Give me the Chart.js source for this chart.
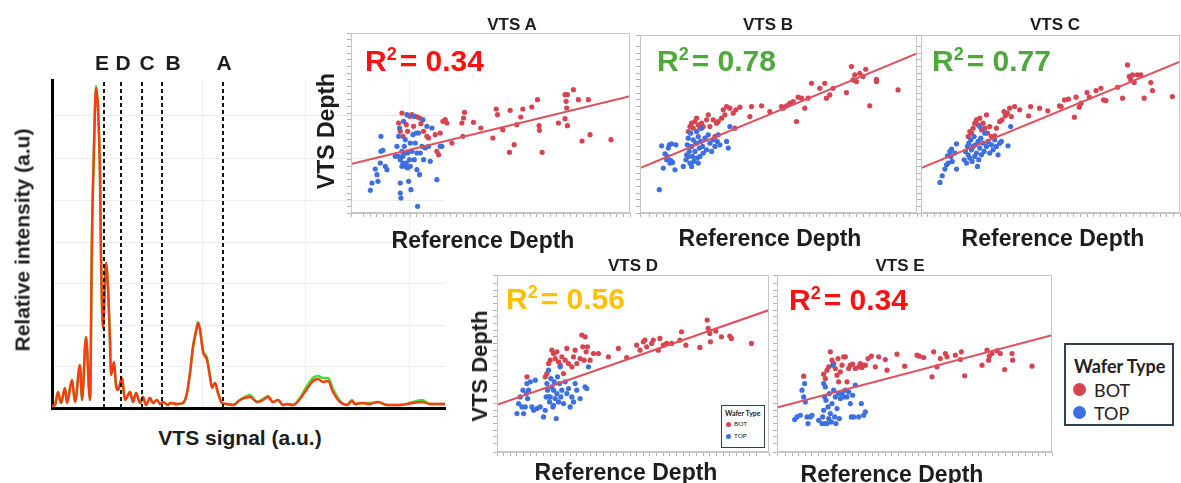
<!DOCTYPE html>
<html>
<head>
<meta charset="utf-8">
<script src="https://cdn.jsdelivr.net/npm/chart.js@4.4.1/dist/chart.umd.min.js"></script>
<style>
  html, body { margin: 0; padding: 0; background: #fff; }
  #page { position: relative; width: 1181px; height: 483px; overflow: hidden; }
  canvas { position: absolute; }
  .t { position: absolute; font-family: 'Liberation Sans', Arial, sans-serif; font-weight: bold;
       color: #1d1d1d; white-space: nowrap; line-height: 1; transform: translate(-50%, -50%); }
  .rot { transform: translate(-50%, -50%) rotate(-90deg); }
  .r2 { position: absolute; font-family: 'Liberation Sans', Arial, sans-serif; font-weight: bold;
        font-size: 30px; line-height: 1; white-space: nowrap; transform: translateY(-50%); }
  .r2 sup { font-size: 0.6em; vertical-align: 0; position: relative; top: -0.62em; margin-right: 3px; }
  .legend { position: absolute; background: #fff; border: 2px solid #2f4356; box-sizing: border-box;
            font-family: Lato, 'Open Sans', sans-serif; color: #222; }
  .legend div { white-space: nowrap; line-height: 1; }
  .legend .dot { display: inline-block; border-radius: 50%; }
</style>
</head>
<body>
<div id="page">
  <canvas id="spec"></canvas>
  <canvas id="pA"></canvas>
  <canvas id="pB"></canvas>
  <canvas id="pC"></canvas>
  <canvas id="pD"></canvas>
  <canvas id="pE"></canvas>

  <!-- left spectrum labels -->
  <div class="t" style="left:102px;top:62px;font-size:21px">E</div>
  <div class="t" style="left:123px;top:62px;font-size:21px">D</div>
  <div class="t" style="left:147px;top:62px;font-size:21px">C</div>
  <div class="t" style="left:173px;top:62px;font-size:21px">B</div>
  <div class="t" style="left:224px;top:62px;font-size:21px">A</div>
  <div class="t rot" style="left:22px;top:240px;font-size:21px">Relative intensity (a.u)</div>
  <div class="t" style="left:240px;top:437px;font-size:21px">VTS signal (a.u.)</div>

  <!-- panel titles -->
  <div class="t" style="left:512px;top:24px;font-size:17px">VTS A</div>
  <div class="t" style="left:768px;top:24px;font-size:17px">VTS B</div>
  <div class="t" style="left:1055px;top:24px;font-size:17px">VTS C</div>
  <div class="t" style="left:633px;top:265px;font-size:17px">VTS D</div>
  <div class="t" style="left:900px;top:265px;font-size:17px">VTS E</div>

  <!-- axis titles -->
  <div class="t rot" style="left:326px;top:131px;font-size:23px">VTS Depth</div>
  <div class="t rot" style="left:480px;top:366px;font-size:22px">VTS Depth</div>
  <div class="t" style="left:483px;top:240px;font-size:23px">Reference Depth</div>
  <div class="t" style="left:770px;top:238px;font-size:23px">Reference Depth</div>
  <div class="t" style="left:1053px;top:238px;font-size:23px">Reference Depth</div>
  <div class="t" style="left:626px;top:472px;font-size:23px">Reference Depth</div>
  <div class="t" style="left:892px;top:474px;font-size:23px">Reference Depth</div>

  <!-- R² labels -->
  <div class="r2" style="left:365px;top:61px;color:#ff1010">R<sup>2</sup>= 0.34</div>
  <div class="r2" style="left:657px;top:61px;color:#4ea83a">R<sup>2</sup>= 0.78</div>
  <div class="r2" style="left:932px;top:61px;color:#4ea83a">R<sup>2</sup>= 0.77</div>
  <div class="r2" style="left:506px;top:299px;color:#ffc000">R<sup>2</sup>= 0.56</div>
  <div class="r2" style="left:789px;top:300px;color:#ff1010">R<sup>2</sup>= 0.34</div>

  <!-- small legend inside VTS D -->
  <div class="legend" style="left:721px;top:405px;width:44px;height:43px;border-width:1.5px">
    <div style="position:absolute;left:3px;top:4px;font-size:7px;font-weight:bold">Wafer Type</div>
    <span class="dot" style="position:absolute;left:4px;top:16px;width:5px;height:5px;background:#d7434f"></span>
    <div style="position:absolute;left:12px;top:15px;font-size:6.5px">BOT</div>
    <span class="dot" style="position:absolute;left:4px;top:28px;width:5px;height:5px;background:#3e6fe2"></span>
    <div style="position:absolute;left:12px;top:27px;font-size:6.5px">TOP</div>
  </div>

  <!-- main legend -->
  <div class="legend" style="left:1064px;top:343px;width:110px;height:83px">
    <div style="position:absolute;left:8px;top:12px;font-size:18px;font-weight:bold">Wafer Type</div>
    <span class="dot" style="position:absolute;left:7px;top:38px;width:13px;height:13px;background:#d7434f"></span>
    <div style="position:absolute;left:28px;top:36px;font-size:18px">BOT</div>
    <span class="dot" style="position:absolute;left:7px;top:61px;width:13px;height:13px;background:#3e6fe2"></span>
    <div style="position:absolute;left:28px;top:59px;font-size:18px">TOP</div>
  </div>
</div>

<script>
'use strict';
// ── Spectrum data (a.u.) ───────────────────────────────────────────────────
const SPEC_X = [0,3,6,9,13,15,20,23,28,30,34,38,40,42,44,46,48,49,51,54,56,58,59,62,64,66,70,73,78,81,84,88,91,94,
  98,101,105,108,111,116,118,125,131,135,138,141,145,146,148,151,155,158,160,163,166,170,175,181,188,198,205,211,216,
  221,226,231,235,241,248,255,261,266,271,276,281,288,295,300,303,310,318,326,335,348,361,370,378,393];
const SPEC_RED = [2,3,16,5,20,5,28,6,43,8,71,8,173,260,320,300,233,153,80,145,120,66,33,46,23,18,30,8,16,6,15,5,11,3,
  10,5,8,4,6,3,5,4,5,15,35,61,81,85,78,56,48,31,20,25,15,5,4,3,8,11,6,8,11,
  6,8,3,4,3,9,19,27,29,26,27,16,6,3,7,4,5,4,6,3,3,5,6,4,4];
const SPEC_GREEN = [2,3,16,5,20,5,28,6,43,8,71,8,173,262,322,300,233,153,80,145,120,66,33,46,23,18,30,8,16,6,15,5,11,3,
  10,5,8,4,6,3,5,4,5,15,35,61,82,86,79,58,50,32,21,25,15,5,4,3,8,13,6,9,12,
  6,8,3,4,3,10,22,30,32,30,30,19,7,3,8,4,5,5,6,3,3,6,8,4,4];
const MARKER_X = [52, 69, 90, 110, 171];   // E D C B A
const MARKER_TOP = 328;
const GRID_Y = [42, 83, 125, 166, 208, 250, 292];
const GRID_X = [150, 253, 357];

// ── Scatter data: [reference depth, VTS depth] ─────────────────────────────
const A_TOP = [[12,12.8],[12.5,15],[13.5,19.2],[14,17.5],[14.3,15.5],[15,21],[15.2,24.5],[15.2,29],[15.8,24.8],[16.5,20],
  [17,19],[19.5,23],[20,26],[20.5,29],[20.8,31.5],[21,15],[21,12],[21.2,10.5],[21.5,20],[21.8,23],[22,33.5],[22.2,26],
  [22.5,28],[22.8,21],[23,35.5],[23.2,24],[23.5,15.5],[23.8,22],[24,20],[24.2,13],[24.5,24.5],[24.8,29.5],[25,35],
  [25.2,22],[25.5,27],[25.8,30],[26,19],[26.2,8],[26.5,30],[26.8,17.5],[27,24],[27.5,26],[27.8,34],[28,22],[28.5,25.5],
  [29,32],[29.5,26],[30,21.5],[30.5,31.5],[32,16],[33,26],[33.5,26],[21.5,24.5],[22.5,20],[24,27],[26,24],[20.5,23],
  [21.8,21],[23.2,19.5],[21,22]];
const A_BOT = [[20.5,33],[21,30.5],[21.5,36],[21.8,29],[22.2,24],[22.8,32.5],[23.2,30.5],[23.8,35],[24.5,35.5],[25,32],
  [25.5,35],[26.2,34.8],[26.8,34.5],[27.2,32.8],[28,30.5],[29,29],[29.5,28.5],[31.5,29.5],[32,24.5],[32.5,23.5],[33,30],
  [33.8,33.5],[34.5,34],[35,33],[36.5,27],[39.5,33],[39.8,29],[40,34.5],[40.3,36.2],[43,33.2],[45.2,31.5],[48.8,28.5],
  [49.8,37.2],[50.2,35.5],[51.8,31],[53.8,24.2],[54,36.8],[55.2,26.5],[56,32.5],[57.2,34.8],[57.8,37.2],[60.5,37.8],
  [62.2,40],[62.7,32.2],[62.8,30.8],[63.6,24.2],[68.5,33],[70.5,34.3],[70.5,41.5],[70.8,39.5],[71,37.5],[71.2,41.5],
  [71.2,32.2],[73,43],[74.5,40],[75.6,27.6],[77.5,40],[78,29.5],[84.3,28]];
const A_FIT = [[6.2,20.7],[90,41]];

const B_TOP = [[8.8,13],[9.5,26.2],[10,19.5],[10.5,23.8],[11,22],[11.2,23],[11.5,25.5],[11.8,26.5],[12,21],[12.2,21.8],
  [12.5,26.8],[12.8,21.2],[13.5,19],[13.8,26.5],[16,20],[16.8,22],[17,23.5],[17.2,26.5],[17.5,28.5],[17.8,24.5],[18,21],
  [18.2,30],[18.5,26],[18.8,23],[19,28],[19.2,21.5],[19.5,24.5],[19.8,27],[20,30.5],[20.2,22.5],[20.5,29],[20.8,25.5],
  [21,23],[21.2,27.5],[21.5,31.5],[21.8,26],[22,24],[22.5,28.5],[23,25],[23.5,29.5],[24,27],[24.5,24.5],[25,28],
  [25.5,26],[26.2,27.5],[26.5,29.5],[27,26.5],[29,27.5],[29.5,25.5],[30,32],[17.5,23],[18.5,20],[20.5,21]];
const B_BOT = [[17.5,30.5],[18,32],[18.5,33],[19,31.5],[19.5,33.5],[20,34.5],[20.5,32.5],[21,31.5],[21.5,33],[22,32],
  [23,34],[23.5,35.5],[24,32],[25,34],[25.5,29],[26,33],[26.5,33.5],[27.5,34.5],[28,37],[28.5,35.5],[29,38],[30,37.5],
  [31,36],[31.8,37],[33,37.8],[31.5,31.5],[36,35],[36.5,38],[39.5,38.2],[42,36.5],[45.5,38],[46,37.5],[47,38.2],[48,39],
  [49,39.5],[50,33.5],[50.5,40.8],[51.5,40.5],[52.5,37.5],[53.5,40.5],[54.5,45],[57,43.5],[58.5,45],[59,40.5],[60,41.5],
  [61,43.5],[65,42.2],[66.5,50],[67,46],[67.5,47.5],[68,45.5],[69,48],[70,47],[70.8,49.2],[72,38.2],[74,45.5],[80.5,43],
  [74,46.2]];
const B_FIT = [[3,19.5],[86.2,54]];

const C_TOP = [[7.5,15.2],[8.2,17.2],[9,19.2],[9.5,20.5],[9.8,23.2],[10,21],[10.5,24.5],[10.8,23],[11,25.2],[11.2,21.5],
  [12,24],[12.5,26.8],[12.5,19.2],[14.8,22],[15.2,24.5],[15.5,21],[15.8,26],[16,23.5],[16.2,27],[16.5,22.5],[16.8,28],
  [17,25],[17.2,21.5],[17.5,26],[17.8,29],[18,23],[18.2,26.5],[18.5,24],[18.8,20],[19,27.5],[19.2,22],[19.5,25.5],
  [19.8,28.5],[20,23.5],[20.5,27],[20.8,24.5],[21,30],[21.5,26],[22,27.5],[22.5,24],[23,26.5],[23.5,25],[24,28],
  [24.5,26],[25,23.5],[25.5,27],[26,27.5],[28,26.2],[28.8,32],[19.5,32]];
const C_BOT = [[16,29],[16.5,30.5],[17,30],[17.5,31.5],[18,33],[18.5,34],[19,32.5],[19.5,34.5],[20,31],[20.5,33],
  [21,31.5],[21.5,35.5],[21.8,30],[22.5,32],[23,29],[24,29.2],[24.5,31.5],[25.5,33.5],[26.2,34],[26.8,36.5],[27.2,35.2],
  [27.8,36],[28.5,37.5],[29,35],[30,38],[31.5,37],[34.2,35.2],[34.8,38],[37.5,37.5],[40,36.7],[43.5,38.2],[44,38],
  [45,40],[46.2,40.2],[48,34.8],[48.5,40.8],[49.5,37.8],[50,39],[51.8,42.2],[52.5,40.8],[54.5,42.8],[56,43.5],[56.8,40],
  [57.5,39.8],[61,43.8],[62.5,40.5],[64,50.5],[64.5,47],[65,46],[65.5,47.5],[66,45.2],[67,47.5],[68,47.5],[69,40.5],
  [71,45.2],[71.5,42.8],[77.5,41]];
const C_FIT = [[1.8,19.5],[79.8,51.5]];

const D_TOP = [[14,21],[14.5,24],[15,26],[15.5,23],[15.8,28],[16,21],[16.5,23],[16.8,27],[17,30],[17.2,25.5],[17.5,28],
  [18,30.5],[18.5,23],[19,22],[19.5,31],[20,22.5],[21,23],[22,20],[22.5,22],[22.8,26],[23,30],[23.2,28],[23.5,34],
  [23.8,24.5],[24,26],[24.2,31.5],[24.5,29],[24.8,23],[25,28],[25.2,30.5],[25.5,25.5],[25.8,19.5],[26,27],[26.2,32],
  [26.5,24.5],[26.8,30],[27,35],[27.2,26],[27.5,28],[28,24],[28.5,30.5],[29,27],[29.5,28.5],[30,23],[30.5,26],[31,24.5],
  [31.5,30],[32,28],[33,25.5],[34.5,29],[35,28.5],[35.5,35],[23.5,26],[25,23.5]];
const D_BOT = [[17,32],[22.5,32],[23,33],[23.5,36],[24,37],[24.5,40],[25,39],[25.5,37.5],[26,39.5],[26.5,36.5],[27,35.5],
  [27.5,38],[28,33],[28.5,37],[29,40.5],[29.5,36],[30.5,35],[31,38],[31.5,40],[32,36],[33,37.5],[33.5,44.5],[33.8,41],
  [34.2,37],[34.5,44],[34.8,39.5],[35.2,41],[36,37],[37,39],[38.5,39],[41.5,38],[44.5,40.5],[47,37.8],[50,41.5],[51,40],
  [52,42.5],[52.5,43],[53,41],[54.5,42],[55,43],[56.5,40],[57,43.5],[58,41.5],[59,42],[60.5,42],[63,43],[63.5,45.5],
  [64.8,41.5],[69,40.8],[71.2,49],[71.5,46.5],[72,45],[72.2,42.5],[73.8,45.7],[75.5,44],[78,44.2],[78.5,43.5],[84.5,42]];
const D_FIT = [[8,23.6],[89.8,52]];

const E_TOP = [[8.8,19.2],[9.5,20],[10.5,20.5],[11,28],[11.5,26],[11.8,30],[12,24.5],[12.5,20],[12.8,18],[13.5,20],
  [14,20.5],[16,19],[17,18],[17.2,20],[17.5,22],[17.8,26],[18,29],[18.2,25],[18.5,18],[18.8,23],[19,19.5],[19.2,27],
  [19.5,21],[19.8,18.5],[20,24],[20.2,35.5],[20.5,28],[20.8,20],[21,26],[21.2,18],[21.5,22.5],[22,27],[22.2,19.5],
  [22.5,25.5],[23,27],[23.5,26],[24,28],[24.5,26],[25,27.5],[25.5,24],[25.8,20],[26.2,26.5],[26.5,20],[27,29.5],[28,20],
  [28.8,24],[29.5,20.5],[30,21.5],[17.5,30],[18,18]];
const E_BOT = [[11.5,32.2],[17.5,32.8],[18,31.5],[18.5,34],[19,35],[19.5,39.5],[20,37],[20.5,36],[21,34.5],[21.5,32.5],
  [21.8,37.5],[22,30.5],[22.5,33.5],[23,35.5],[23.5,38],[24,38],[24.5,30.5],[25,34.5],[25.5,35.5],[26.2,35.8],[27,34.5],
  [28,35],[28.5,36],[29,34.8],[29.5,35.5],[30,35.5],[30.8,37.5],[31.8,38.2],[33,35],[34,38],[36,37.2],[36.5,34],
  [39.5,38.8],[41.8,35.2],[45.5,38.5],[46.2,38.2],[47.5,37.8],[50,32],[50.5,39.5],[51.5,35],[52.5,37.5],[54,39],[54.5,38],
  [57,38.5],[58.5,37.2],[58.8,39.5],[59.8,32.3],[65,35.5],[66.5,40],[67,37],[67.2,38.2],[68,39],[69.5,39.8],[70.5,39],
  [71.8,34.2],[74,39],[74.2,37],[80,35.2]];
const E_FIT = [[3.5,22.8],[86,44.5]];

// axis ranges [xmin, xmax, ymin, ymax]
const A_RANGE = [6.2, 90, 6, 60];
const B_RANGE = [3.0, 86.2, 6, 59.5];
const C_RANGE = [1.8, 79.8, 6, 59.5];
const D_RANGE = [8.0, 89.8, 9.5, 62.5];
const E_RANGE = [3.5, 86, 9.5, 62.5];

// ── colours ────────────────────────────────────────────────────────────────
const BOT_COL = '#d7434f';
const TOP_COL = '#3e6fe2';
const FIT_COL = '#e0505c';
const FRAME   = '#c6c6c6';

const pts = arr => arr.map(p => ({x: p[0], y: p[1]}));

// ── Spectrum chart ─────────────────────────────────────────────────────────
(function () {
    const cv = document.getElementById('spec');
    cv.width = 450; cv.height = 345;
    cv.style.left = '0px'; cv.style.top = '70px';
    const markers = MARKER_X.map(m => ({
        data: [{x: m, y: 0}, {x: m, y: MARKER_TOP}],
        borderColor: '#151515', borderWidth: 2, borderDash: [4, 3],
        pointRadius: 0, order: 0
    }));
    const trace = (ys, color, w, order) => ({
        data: SPEC_X.map((x, i) => ({x, y: ys[i]})),
        borderColor: color, borderWidth: w, pointRadius: 0,
        cubicInterpolationMode: 'monotone', order
    });
    new Chart(cv, {
        type: 'line',
        data: { datasets: [
            ...markers,
            trace(SPEC_RED,   '#ff3a12', 2.4, 1),
            trace(SPEC_GREEN, '#3fe03a', 2.6, 2),
        ]},
        options: {
            responsive: false, animation: false,
            layout: { padding: { left: 52, top: 10, right: 5, bottom: 7 } },
            plugins: { legend: { display: false }, tooltip: { enabled: false } },
            scales: {
                x: { type: 'linear', min: 0, max: 393,
                     afterBuildTicks: s => { s.ticks = GRID_X.map(v => ({value: v})); },
                     ticks: { display: false },
                     grid: { color: '#efefef', drawTicks: false },
                     border: { color: '#000', width: 3 } },
                y: { min: 0, max: MARKER_TOP,
                     afterBuildTicks: s => { s.ticks = GRID_Y.map(v => ({value: v})); },
                     ticks: { display: false },
                     grid: { color: '#ececec', drawTicks: false },
                     border: { color: '#000', width: 3 } }
            }
        }
    });
})();

// ── Scatter panels ─────────────────────────────────────────────────────────
const frameBox = {
    id: 'frameBox',
    afterDraw(chart) {
        const {ctx, chartArea: a} = chart;
        ctx.save();
        ctx.strokeStyle = FRAME; ctx.lineWidth = 1;
        ctx.strokeRect(a.left + 0.5, a.top + 0.5, a.right - a.left - 1, a.bottom - a.top - 1);
        ctx.restore();
    }
};

function makeScatter(id, box, range, top, bot, fit) {
    const cv = document.getElementById(id);
    cv.width = box.w + 16; cv.height = box.h + 16;
    cv.style.left = (box.l - 10) + 'px'; cv.style.top = (box.t - 5) + 'px';
    const axis = (min, max) => ({
        type: 'linear', min, max,
        ticks: { display: false, stepSize: 2 },
        grid: { drawOnChartArea: false, drawTicks: true, tickLength: 4, tickColor: '#b4b4b4' },
        border: { color: FRAME }
    });
    return new Chart(cv, {
        type: 'scatter',
        data: { datasets: [
            { type: 'line', data: pts(fit), borderColor: FIT_COL, borderWidth: 2, pointRadius: 0, order: 0 },
            { label: 'BOT', data: pts(bot), backgroundColor: BOT_COL, pointRadius: 2.6, borderWidth: 0, order: 2 },
            { label: 'TOP', data: pts(top), backgroundColor: TOP_COL, pointRadius: 2.6, borderWidth: 0, order: 1 },
        ]},
        options: {
            responsive: false, animation: false,
            layout: { padding: { left: 6, top: 5, right: 6, bottom: 7 } },
            plugins: { legend: { display: false }, tooltip: { enabled: false } },
            scales: { x: axis(range[0], range[1]), y: axis(range[2], range[3]) }
        },
        plugins: [frameBox]
    });
}

makeScatter('pA', {l: 351, t: 33,  w: 279, h: 180}, A_RANGE, A_TOP, A_BOT, A_FIT);
makeScatter('pB', {l: 640, t: 35,  w: 277, h: 178}, B_RANGE, B_TOP, B_BOT, B_FIT);
makeScatter('pC', {l: 921, t: 35,  w: 259, h: 178}, C_RANGE, C_TOP, C_BOT, C_FIT);
makeScatter('pD', {l: 497, t: 275, w: 272, h: 177}, D_RANGE, D_TOP, D_BOT, D_FIT);
makeScatter('pE', {l: 777, t: 275, w: 275, h: 177}, E_RANGE, E_TOP, E_BOT, E_FIT);
</script>
</body>
</html>
